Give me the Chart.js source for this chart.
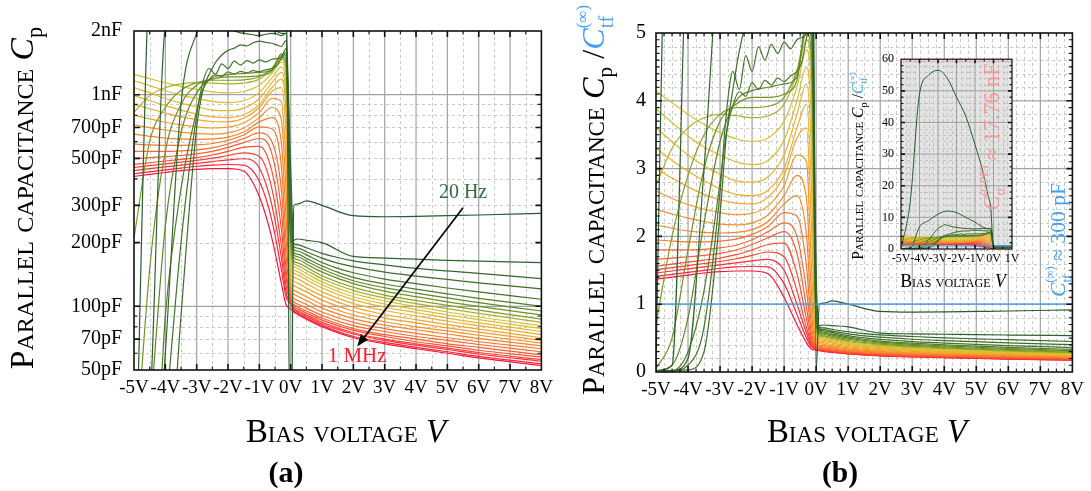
<!DOCTYPE html>
<html><head><meta charset="utf-8">
<script src="https://cdn.jsdelivr.net/npm/chart.js@4.4.1/dist/chart.umd.min.js"></script>
<style>
html,body{margin:0;padding:0;background:#fff;width:1091px;height:491px;overflow:hidden}
.w{position:absolute}
</style></head><body>
<div class="w" style="left:0;top:0"><canvas id="ca" width="560" height="491"></canvas></div>
<div class="w" style="left:560px;top:0"><canvas id="cb" width="531" height="491"></canvas></div>
<div class="w" style="left:840px;top:45px"><canvas id="ci" width="190" height="250"></canvas></div>
<script>
// ---------------- DATA (parallel capacitance in pF) ----------------
const biasV  = [-5, -4.5, -4, -3.5, -3, -2.5, -2, -1.5, -1, -0.6, -0.3, -0.15, 0, 0.1, 0.25, 0.5, 1, 2, 3, 4, 5, 6, 8];
// finer bias grid used by the noisy low-frequency curves
const biasVN = [-5, -4.5, -4, -3.5, -3, -2.8, -2.6, -2.4, -2.2, -2, -1.8, -1.6, -1.4, -1.2, -1, -0.8, -0.6, -0.45, -0.3, -0.15, 0, 0.1, 0.25, 0.5, 1, 1.5, 2, 3, 4, 5, 6, 8];
// 20 Hz (cp00) ... 1 MHz (cp25)
const cp00 = [6, 4500, 14700, 16500, 16950, 16200, 14400, 12600, 9900, 7500, 5100, 3900, 10, 300, 305, 315, 300, 268, 265, 266, 268, 270, 275];
const cp01 = [6, 30, 2100, 2700, 3300, 3600, 3450, 3000, 2550, 2100, 1950, 1950, 200, 205, 208, 205, 200, 172, 169, 167, 165, 163.5, 161];
const cp02 = [6, 6, 60, 900, 1950, 2150, 2300, 2200, 2100, 2050, 2000, 1960, 1940, 1920, 1900, 1930, 1950, 1940, 1900, 1950, 450, 198, 195, 189, 178, 170, 164, 157, 151, 147, 143, 135];
const cp03 = [6, 6, 9, 90, 700, 1050, 1250, 1420, 1540, 1620, 1660, 1720, 1700, 1760, 1790, 1770, 1750, 1720, 1690, 1800, 360, 192, 188, 181, 169, 160, 154, 145, 139, 134, 129, 121];
const cp04 = [6, 6, 30, 200, 800, 1150, 1330, 1250, 1400, 1330, 1440, 1380, 1450, 1410, 1460, 1430, 1470, 1480, 1500, 1650, 300, 186, 182, 175, 161, 151, 144, 134.5, 128, 122, 117, 108];
const cp05 = [6, 6, 90, 360, 840, 1060, 1180, 1240, 1220, 1280, 1250, 1290, 1270, 1300, 1285, 1310, 1330, 1370, 1480, 1580, 270, 180, 176, 168.5, 155, 145, 137, 127.5, 120.5, 114.5, 109, 100];
const cp06 = [6, 30, 240, 660, 1020, 1200, 1245, 1260, 1275, 1305, 1560, 1530, 240, 175, 171, 163.5, 150, 132, 122.5, 115.5, 109.5, 104, 95];
const cp07 = [15, 150, 540, 900, 1110, 1185, 1215, 1215, 1230, 1290, 1530, 1470, 210, 170, 166, 158.5, 145, 128, 118, 111, 105, 100, 91];
const cp08 = [210, 600, 870, 1050, 1140, 1170, 1170, 1176, 1215, 1335, 1500, 1410, 195, 164, 160, 153, 139.5, 123, 113, 106.5, 101, 96, 87];
const cp09 = [825, 990, 1080, 1125, 1140, 1134, 1125, 1134, 1185, 1320, 1470, 1350, 180, 159, 155, 148, 135, 119, 109.5, 103, 97.5, 92.5, 84];
const cp10 = [1245, 1191, 1140, 1095, 1059, 1032, 1020, 1035, 1110, 1260, 1425, 1230, 165, 154, 150, 143, 130.5, 115, 106, 99.5, 94, 89, 81];
const cp11 = [1164, 1104, 1044, 996, 960, 930, 918, 936, 1026, 1200, 1350, 1110, 158, 148, 145, 138, 126.5, 111, 102.5, 96.5, 91, 86.5, 78.5];
const cp12 = [1080, 1020, 960, 912, 876, 846, 840, 864, 960, 1140, 1275, 990, 150, 143, 140, 133.5, 122, 107.5, 99, 93.5, 88, 83.5, 76];
const cp13 = [990, 936, 888, 846, 810, 786, 780, 804, 900, 1080, 1185, 840, 142, 137, 134, 128, 117, 103, 95.5, 90, 85, 81, 73.5];
const cp14 = [900, 858, 819, 786, 762, 747, 744, 774, 870, 1035, 1080, 660, 135, 131, 128, 122, 112, 99, 91.5, 86.5, 82, 78, 71];
const cp15 = [801, 768, 741, 720, 705, 696, 702, 735, 825, 960, 930, 480, 130, 125, 122, 117, 107, 95, 88, 83.5, 79, 75.5, 69];
const cp16 = [720, 699, 681, 666, 654, 651, 660, 696, 780, 870, 765, 360, 125, 119, 116, 111, 102, 91, 84.5, 80, 76.5, 73, 67];
const cp17 = [651, 636, 624, 618, 615, 618, 630, 666, 744, 780, 600, 270, 120, 114, 111, 106.5, 98, 87.5, 81.5, 77.5, 74, 70.5, 65];
const cp18 = [585, 579, 576, 576, 579, 588, 609, 645, 705, 690, 465, 210, 116, 109, 106, 102, 94, 84, 78.5, 74.5, 71, 68, 63];
const cp19 = [540, 540, 540, 543, 549, 561, 585, 621, 660, 600, 360, 174, 112, 105, 102, 98, 90.5, 81, 76, 72, 69, 66, 61];
const cp20 = [498, 504, 510, 516, 525, 540, 564, 594, 621, 525, 285, 150, 108, 102, 99, 95, 88, 78.5, 73.5, 70, 66.5, 64, 59];
const cp21 = [468, 477, 486, 495, 504, 519, 540, 564, 570, 435, 234, 138, 106, 100, 97, 93, 86, 77, 72, 68, 65, 62, 57.5];
const cp22 = [453, 462, 471, 480, 489, 501, 516, 531, 510, 360, 195, 126, 105, 98, 95, 91, 84, 75, 70, 66.5, 63.5, 60.5, 56];
const cp23 = [438, 447, 456, 465, 474, 483, 492, 498, 450, 300, 171, 117, 103, 96.5, 93.5, 89.5, 82.5, 74, 69, 65.5, 62.5, 59.5, 55];
const cp24 = [423, 432, 441, 450, 459, 465, 468, 465, 390, 255, 150, 111, 102, 95, 92, 88, 81, 72, 67.5, 64, 61, 58, 53.5];
const cp25 = [411, 420, 429, 438, 444, 447, 447, 435, 330, 210, 129, 102, 97, 94, 91, 87, 80, 71, 66.5, 63, 60, 57, 52.5];
const curves = [
  [biasV, cp00], [biasV, cp01], [biasVN, cp02], [biasVN, cp03], [biasVN, cp04], [biasVN, cp05],
  [biasV, cp06], [biasV, cp07], [biasV, cp08], [biasV, cp09], [biasV, cp10], [biasV, cp11], [biasV, cp12],
  [biasV, cp13], [biasV, cp14], [biasV, cp15], [biasV, cp16], [biasV, cp17], [biasV, cp18], [biasV, cp19],
  [biasV, cp20], [biasV, cp21], [biasV, cp22], [biasV, cp23], [biasV, cp24], [biasV, cp25]];
const cInfPF = 300;      // C_tf^(inf) ~ 300 pF
const cCpePF = 17760;    // C_tf^(CPE) ~ 17.76 nF

const xTicks = [-5, -4, -3, -2, -1, 0, 1, 2, 3, 4, 5, 6, 7, 8];
const yTicksA = [50, 70, 100, 200, 300, 500, 700, 1000, 2000];
const yLabelsA = ['50pF', '70pF', '100pF', '200pF', '300pF', '500pF', '700pF', '1nF', '2nF'];
const yMinorA = [60, 80, 90, 400, 600, 800, 900];
const yTicksB = [0, 1, 2, 3, 4, 5];
const xTicksInset = [-5, -4, -3, -2, -1, 0, 1];
const yTicksInset = [0, 10, 20, 30, 40, 50, 60];

// ---------------- STYLE ----------------
const SERIF = "'Liberation Serif', 'DejaVu Serif', serif";
const BLUE = '#45a0f2';
const STOPS = [[0,[38,92,48]],[0.18,[72,118,40]],[0.32,[128,158,35]],[0.4,[214,194,52]],[0.55,[242,170,42]],[0.7,[247,125,42]],[0.85,[252,75,52]],[1,[255,18,58]]];
function curveColor(t){
  for(let i=1;i<STOPS.length;i++){
    if(t<=STOPS[i][0]){
      const [t0,c0]=STOPS[i-1],[t1,c1]=STOPS[i]; const f=(t-t0)/(t1-t0);
      return 'rgb('+c0.map((c,j)=>Math.round(c+(c1[j]-c)*f)).join(',')+')';
    }
  }
  return 'rgb(255,18,58)';
}
function makeDatasets(div, bw){
  return curves.map(([xs,c],k)=>({
    data: xs.map((x,i)=>({x:x, y:c[i]/div})),
    borderColor: curveColor(k/(curves.length-1)),
    borderWidth: bw, pointRadius: 0, cubicInterpolationMode:'monotone', fill:false
  }));
}
function range(a,b,s){const r=[];for(let v=a;v<=b+1e-9;v+=s)r.push(Math.round(v*1000)/1000);return r;}

function fontStr(s,sc){return (s.italic?'italic ':'')+(s.sc?'small-caps ':'')+(s.bold?'bold ':'')+(s.size*sc).toFixed(2)+'px '+SERIF;}
function drawRich(ctx, segs, x, y, o){
  o=o||{};
  ctx.save(); ctx.translate(x,y); if(o.rot) ctx.rotate(o.rot);
  ctx.textBaseline='alphabetic'; ctx.textAlign='left';
  const meas=(sc)=>{ let tot=0; const adv=[];
    segs.forEach((s)=>{ctx.font=fontStr(s,sc); s._w=ctx.measureText(s.t).width;});
    segs.forEach((s,i)=>{ if(s.stack){adv[i]=0;} else if(i>0 && segs[i-1].stack){adv[i]=Math.max(s._w,segs[i-1]._w);} else adv[i]=s._w; tot+=adv[i];});
    return {tot,adv}; };
  let sc=1, m=meas(1);
  if(o.target){ sc=o.target/m.tot; m=meas(sc); }
  let cx = o.align==='left'?0:-m.tot/2;
  segs.forEach((s,i)=>{ ctx.font=fontStr(s,sc); ctx.fillStyle=s.color||o.color||'#000'; ctx.fillText(s.t,cx,(s.dy||0)*sc); cx+=m.adv[i]; });
  ctx.restore();
}

function framePlugin(o){
  return {
    id:'frame',
    beforeDatasetsDraw(chart){
      const ctx=chart.ctx, a=chart.chartArea, X=chart.scales.x, Y=chart.scales.y;
      ctx.save();
      if(o.bg){ctx.fillStyle=o.bg; ctx.fillRect(a.left,a.top,a.right-a.left,a.bottom-a.top);}
      ctx.lineWidth=1; ctx.setLineDash([3,3]); ctx.strokeStyle=o.minorColor||'#c9c9c9';
      o.xMinor.forEach(v=>{const p=Math.round(X.getPixelForValue(v))+0.5; ctx.beginPath(); ctx.moveTo(p,a.top); ctx.lineTo(p,a.bottom); ctx.stroke();});
      o.yMinor.forEach(v=>{const p=Math.round(Y.getPixelForValue(v))+0.5; ctx.beginPath(); ctx.moveTo(a.left,p); ctx.lineTo(a.right,p); ctx.stroke();});
      ctx.setLineDash([]); ctx.strokeStyle=o.majorColor||'#a3a3a3'; ctx.lineWidth=o.majorWidth||1.2;
      o.xMajor.forEach(v=>{const p=X.getPixelForValue(v); ctx.beginPath(); ctx.moveTo(p,a.top); ctx.lineTo(p,a.bottom); ctx.stroke();});
      o.yMajor.forEach(v=>{const p=Y.getPixelForValue(v); ctx.beginPath(); ctx.moveTo(a.left,p); ctx.lineTo(a.right,p); ctx.stroke();});
      ctx.restore();
    },
    afterDatasetsDraw(chart){
      const ctx=chart.ctx, a=chart.chartArea, X=chart.scales.x, Y=chart.scales.y;
      ctx.save();
      (o.hlines||[]).forEach(h=>{const p=Y.getPixelForValue(h.v); ctx.strokeStyle=h.color; ctx.lineWidth=h.w||1.2; ctx.beginPath(); ctx.moveTo(a.left,p); ctx.lineTo(a.right,p); ctx.stroke();});
      ctx.strokeStyle='#111'; ctx.lineWidth=o.frameW||1.6;
      ctx.strokeRect(a.left,a.top,a.right-a.left,a.bottom-a.top);
      const L=o.tickLen||6;
      const tx=(vals,len,w)=>vals.forEach(v=>{const p=X.getPixelForValue(v); ctx.lineWidth=w; ctx.beginPath(); ctx.moveTo(p,a.bottom); ctx.lineTo(p,a.bottom-len); ctx.moveTo(p,a.top); ctx.lineTo(p,a.top+len); ctx.stroke();});
      const ty=(vals,len,w)=>vals.forEach(v=>{const p=Y.getPixelForValue(v); ctx.lineWidth=w; ctx.beginPath(); ctx.moveTo(a.left,p); ctx.lineTo(a.left+len,p); ctx.moveTo(a.right,p); ctx.lineTo(a.right-len,p); ctx.stroke();});
      tx(o.xTickMajor,L,1.6); tx(o.xTickMinor,L*0.6,1.1);
      ty(o.yTickMajor,L,1.6); ty(o.yTickMinor,L*0.6,1.1);
      ctx.restore();
      if(o.after) o.after(chart);
    }
  };
}
function xScale(min,max,ticks,size,h,pad){
  return {type:'linear',min,max,
    afterBuildTicks:s=>{s.ticks=ticks.map(v=>({value:v}));},
    afterFit:s=>{s.height=h;},
    ticks:{autoSkip:false,maxRotation:0,minRotation:0,padding:pad,color:'#000',font:{family:SERIF,size},callback:v=>v+'V'},
    grid:{display:false,drawTicks:false},border:{display:false}};
}

const titleSegsB = (s)=>[
  {t:'Parallel capacitance ',size:s,sc:true},
  {t:'C',size:s,italic:true},{t:'p',size:s*0.66,dy:s*0.25},
  {t:' /',size:s},
  {t:'C',size:s,italic:true,color:BLUE},
  {t:'(∞)',size:s*0.52,dy:-s*0.5,color:BLUE,stack:true},
  {t:'tf',size:s*0.62,dy:s*0.28,color:BLUE}
];

// ---------------- CHART (a) ----------------
new Chart(document.getElementById('ca'),{
  type:'line',
  data:{datasets:makeDatasets(1,1.2)},
  options:{responsive:false,animation:false,events:[],
    layout:{padding:{top:31,left:0,right:4,bottom:0}},
    plugins:{legend:{display:false},tooltip:{enabled:false}},
    scales:{
      x:xScale(-5,8,xTicks,19,121,7),
      y:{type:'logarithmic',min:50,max:2000,
        afterBuildTicks:s=>{s.ticks=yTicksA.map(v=>({value:v}));},
        afterFit:s=>{s.width=134;},
        ticks:{autoSkip:false,padding:12,color:'#000',font:{family:SERIF,size:20},
          callback:v=>{const i=yTicksA.indexOf(v);return i>=0?yLabelsA[i]:'';}},
        grid:{display:false,drawTicks:false},border:{display:false}}
    }
  },
  plugins:[framePlugin({
    xMinor:range(-4.5,7.5,1), yMinor:[60,70,80,90,200,300,400,500,600,700,800,900],
    xMajor:range(-4,7,1), yMajor:[100,1000],
    xTickMajor:range(-4,7,1), xTickMinor:range(-4.5,7.5,1),
    yTickMajor:[70,100,200,300,500,700,1000], yTickMinor:yMinorA,
    after(chart){
      const ctx=chart.ctx, X=chart.scales.x, Y=chart.scales.y;
      ctx.save();
      const x1=X.getPixelForValue(5.5), y1=Y.getPixelForValue(292), x2=X.getPixelForValue(2.12), y2=Y.getPixelForValue(64.5);
      const ang=Math.atan2(y2-y1,x2-x1);
      ctx.strokeStyle='#000'; ctx.fillStyle='#000'; ctx.lineWidth=1.7;
      ctx.beginPath(); ctx.moveTo(x1,y1); ctx.lineTo(x2-9*Math.cos(ang),y2-9*Math.sin(ang)); ctx.stroke();
      ctx.beginPath(); ctx.moveTo(x2,y2);
      ctx.lineTo(x2-12*Math.cos(ang)+4.5*Math.sin(ang), y2-12*Math.sin(ang)-4.5*Math.cos(ang));
      ctx.lineTo(x2-12*Math.cos(ang)-4.5*Math.sin(ang), y2-12*Math.sin(ang)+4.5*Math.cos(ang));
      ctx.closePath(); ctx.fill();
      ctx.textAlign='center'; ctx.textBaseline='middle';
      ctx.font='20px '+SERIF; ctx.fillStyle='#2e6b3e'; ctx.fillText('20 Hz', X.getPixelForValue(5.5), Y.getPixelForValue(343));
      ctx.font='21px '+SERIF; ctx.fillStyle='#ff1a2a'; ctx.fillText('1 MHz', X.getPixelForValue(2.12), Y.getPixelForValue(58));
      ctx.restore();
      drawRich(ctx,[{t:'Parallel capacitance ',size:30,sc:true},{t:'C',size:30,italic:true},{t:'p',size:20,dy:8}],33,198,{rot:-Math.PI/2,target:337});
      drawRich(ctx,[{t:'Bias voltage ',size:30,sc:true},{t:'V',size:30,italic:true}],346,442,{target:200});
      drawRich(ctx,[{t:'(a)',size:24,bold:true}],286,482,{target:35});
    }
  })]
});

// ---------------- CHART (b) ----------------
new Chart(document.getElementById('cb'),{
  type:'line',
  data:{datasets:makeDatasets(cInfPF,1.2)},
  options:{responsive:false,animation:false,events:[],
    layout:{padding:{top:33,left:0,right:14,bottom:0}},
    plugins:{legend:{display:false},tooltip:{enabled:false}},
    scales:{
      x:xScale(-5,8,xTicks,19,119,7),
      y:{type:'linear',min:0,max:5,
        afterBuildTicks:s=>{s.ticks=yTicksB.map(v=>({value:v}));},
        afterFit:s=>{s.width=96;},
        ticks:{autoSkip:false,padding:10,color:'#000',font:{family:SERIF,size:20}},
        grid:{display:false,drawTicks:false},border:{display:false}}
    }
  },
  plugins:[framePlugin({
    xMinor:range(-5,8,0.25).filter(v=>v%1!==0), yMinor:range(0.2,4.8,0.2).filter(v=>Math.abs(v-Math.round(v))>0.01),
    xMajor:range(-4,7,1), yMajor:[1,2,3,4],
    xTickMajor:range(-4,7,1), xTickMinor:range(-5,8,0.25).filter(v=>v%1!==0),
    yTickMajor:[1,2,3,4], yTickMinor:range(0.1,4.9,0.1).filter(v=>Math.abs(v-Math.round(v))>0.01),
    hlines:[{v:1,color:BLUE,w:1.3}],
    after(chart){
      const ctx=chart.ctx;
      drawRich(ctx,titleSegsB(30),44,200,{rot:-Math.PI/2,target:386});
      drawRich(ctx,[{t:'Bias voltage ',size:30,sc:true},{t:'V',size:30,italic:true}],307,442,{target:200});
      drawRich(ctx,[{t:'(b)',size:24,bold:true}],280,482,{target:36});
      drawRich(ctx,[{t:'C',size:22,italic:true},{t:'(∞)',size:12,dy:-11,stack:true},{t:'tf',size:13,dy:6},{t:' ≈ 300 pF',size:22}],505,240,{rot:-Math.PI/2,target:114,color:BLUE});
    }
  })]
});

// ---------------- INSET ----------------
new Chart(document.getElementById('ci'),{
  type:'line',
  data:{datasets:makeDatasets(cInfPF,1)},
  options:{responsive:false,animation:false,events:[],
    layout:{padding:{top:14,left:0,right:18,bottom:0}},
    plugins:{legend:{display:false},tooltip:{enabled:false}},
    scales:{
      x:xScale(-5,1,xTicksInset,12,46,3),
      y:{type:'linear',min:0,max:60,
        afterBuildTicks:s=>{s.ticks=yTicksInset.map(v=>({value:v}));},
        afterFit:s=>{s.width=61;},
        ticks:{autoSkip:false,padding:7,color:'#000',font:{family:SERIF,size:12}},
        grid:{display:false,drawTicks:false},border:{display:false}}
    }
  },
  plugins:[framePlugin({
    bg:'#e3e3e3', minorColor:'#c2c2c2', majorColor:'#a0a0a0', majorWidth:1, frameW:1.2, tickLen:4,
    xMinor:range(-5,1,0.25).filter(v=>v%1!==0), yMinor:range(2,58,2).filter(v=>v%10!==0),
    xMajor:range(-4,0,1), yMajor:[10,20,30,40,50],
    xTickMajor:range(-4,0,1), xTickMinor:range(-4.5,0.5,1),
    yTickMajor:[10,20,30,40,50], yTickMinor:range(2,58,2).filter(v=>v%10!==0),
    hlines:[{v:1,color:BLUE,w:1.2},{v:cCpePF/cInfPF,color:'#f4a2a2',w:1.2}],
    after(chart){
      const ctx=chart.ctx;
      drawRich(ctx,titleSegsB(15),23,121,{rot:-Math.PI/2,target:193});
      drawRich(ctx,[{t:'Bias voltage ',size:15,sc:true},{t:'V',size:15,italic:true}],113,242,{target:112});
      drawRich(ctx,[{t:'C',size:22,italic:true},{t:'(CPE)',size:12,dy:-11,stack:true},{t:'tf',size:13,dy:6},{t:' ≈ 17.76 nF',size:22}],159,92,{rot:-Math.PI/2,target:147,color:'#f29a9a'});
    }
  })]
});
</script>
</body></html>
